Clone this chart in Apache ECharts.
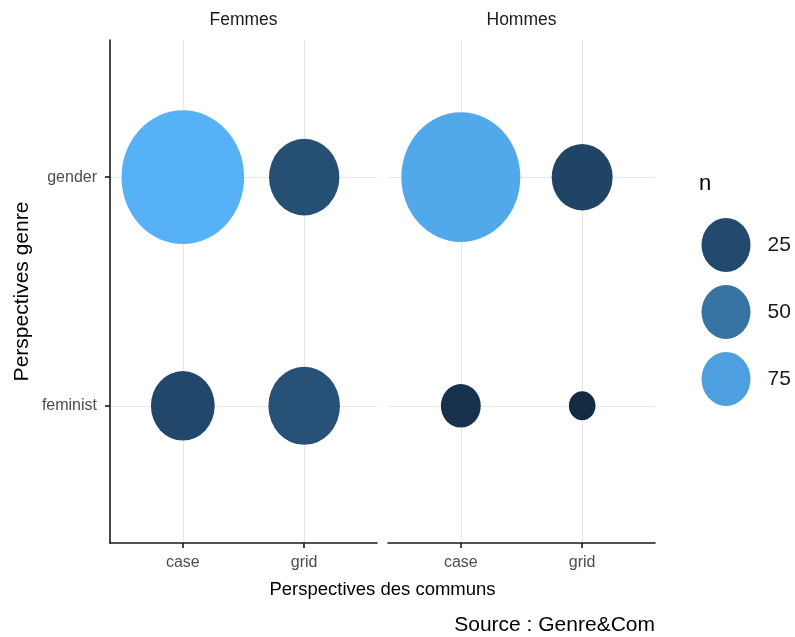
<!DOCTYPE html>
<html><head><meta charset="utf-8">
<script src="https://cdn.jsdelivr.net/npm/echarts@6/dist/echarts.min.js"></script>
<style>html,body{margin:0;padding:0;background:#fff}#c{width:795px;height:637px}</style>
</head><body><div id="c"></div>
<script>
// ---- data ----
const panels = ['Femmes', 'Hommes'];
const xCats = ['case', 'grid'];
const yCats = ['feminist', 'gender'];
const femmesFeminist = [23, 29];   // case, grid
const femmesGender = [85, 28];
const hommesFeminist = [9, 4];
const hommesGender = [80, 21];
const legendValues = [25, 50, 75];
const xTitle = 'Perspectives des communs';
const yTitle = 'Perspectives genre';
const caption = 'Source : Genre&Com';
const legendTitle = 'n';

// ---- colour scale (Lab interpolation like ggplot's gradient) ----
const colorLow = '#132B43', colorHigh = '#56B1F7';
function hexToRgb(h){ h=h.replace('#',''); return [0,2,4].map(i=>parseInt(h.substr(i,2),16)); }
function toLin(c){ c/=255; return c<=0.04045? c/12.92 : Math.pow((c+0.055)/1.055,2.4); }
function fromLin(c){ const v = c<=0.0031308? 12.92*c : 1.055*Math.pow(c,1/2.4)-0.055; return Math.round(Math.max(0,Math.min(1,v))*255); }
const Xn=0.95047, Yn=1, Zn=1.08883;
function f(t){ return t>0.008856? Math.cbrt(t) : 7.787*t+16/116; }
function finv(t){ return t>0.206893? t*t*t : (t-16/116)/7.787; }
function rgbToLab(rgb){ const [r,g,b]=rgb.map(toLin);
  const X=(0.4124*r+0.3576*g+0.1805*b)/Xn, Y=(0.2126*r+0.7152*g+0.0722*b)/Yn, Z=(0.0193*r+0.1192*g+0.9505*b)/Zn;
  return [116*f(Y)-16, 500*(f(X)-f(Y)), 200*(f(Y)-f(Z))]; }
function labToHex(lab){ const fy=(lab[0]+16)/116, fx=fy+lab[1]/500, fz=fy-lab[2]/200;
  const X=finv(fx)*Xn, Y=finv(fy)*Yn, Z=finv(fz)*Zn;
  const r= 3.2406*X-1.5372*Y-0.4986*Z, g=-0.9689*X+1.8758*Y+0.0415*Z, b=0.0557*X-0.2040*Y+1.0570*Z;
  return '#'+[r,g,b].map(fromLin).map(v=>v.toString(16).padStart(2,'0')).join(''); }
const labLow = rgbToLab(hexToRgb(colorLow)), labHigh = rgbToLab(hexToRgb(colorHigh));
const colorStops = [];
for (let k=0;k<=20;k++){ const t=k/20; colorStops.push(labToHex(labLow.map((v,i)=>v+(labHigh[i]-v)*t))); }

const allN = [].concat(femmesFeminist, femmesGender, hommesFeminist, hommesGender);
const nMin = Math.min(...allN), nMax = Math.max(...allN);

function panelData(feminist, gender){
  const d = [];
  xCats.forEach((c,i)=>{ d.push([i+1, 1, feminist[i]]); d.push([i+1, 2, gender[i]]); });
  return d;
}
const ellipsePath = 'path://M0,1A1,1 0 1,1 2,1A1,1 0 1,1 0,1Z';
const sizeK = 13.3, aspect = 1.09;
const symbolSize = v => { const w = sizeK*Math.sqrt(v[2]); return [w, w*aspect]; };

const FONT = '"Liberation Sans", Arial, sans-serif';
const gridLine = { show:true, lineStyle:{ color:'#e8e8e8', width:1 } };
function xAxisFor(gi){
  return { type:'value', gridIndex:gi, min:0.4, max:2.6,
    axisLine:{ show:true, lineStyle:{ color:'#1a1a1a', width:1.6 } },
    axisTick:{ show:true, length:5, customValues:[1,2], lineStyle:{ color:'#1a1a1a', width:1.6 } },
    axisLabel:{ customValues:[1,2], formatter: v=>xCats[Math.round(v)-1], color:'#4d4d4d', fontSize:16, fontFamily:FONT, margin:12 },
    splitLine: gridLine };
}
function yAxisFor(gi, showAxis){
  return { type:'value', gridIndex:gi, min:0.4, max:2.6,
    name: showAxis? yTitle : '', nameLocation:'middle', nameGap:77, nameRotate:90,
    nameTextStyle:{ fontSize:21, color:'#000', fontFamily:FONT },
    axisLine:{ show:showAxis, lineStyle:{ color:'#1a1a1a', width:1.6 } },
    axisTick:{ show:showAxis, length:5, customValues:[1,2], lineStyle:{ color:'#1a1a1a', width:1.6 } },
    axisLabel:{ show:showAxis, customValues:[1,2], formatter: v=>yCats[Math.round(v)-1], color:'#4d4d4d', fontSize:16, fontFamily:FONT, margin:13 },
    splitLine: gridLine };
}

const option = {
  animation:false,
  backgroundColor:'#fff',
  grid:[
    { left:110, top:40, width:267, height:503 },
    { left:388, top:40, width:267, height:503 },
    { left:676, top:245, width:100, height:134 }
  ],
  xAxis:[ xAxisFor(0), xAxisFor(1),
    { type:'value', gridIndex:2, min:-1, max:1, show:false } ],
  yAxis:[ yAxisFor(0,true), yAxisFor(1,false),
    { type:'value', gridIndex:2, min:0, max:2, inverse:true, show:false } ],
  visualMap:{ type:'continuous', show:false, dimension:2, min:nMin, max:nMax, seriesIndex:[0,1,2], inRange:{ color: colorStops } },
  series:[
    { type:'scatter', name:panels[0], xAxisIndex:0, yAxisIndex:0, symbol:ellipsePath, symbolSize, itemStyle:{ opacity:1 }, data: panelData(femmesFeminist, femmesGender) },
    { type:'scatter', name:panels[1], xAxisIndex:1, yAxisIndex:1, symbol:ellipsePath, symbolSize, itemStyle:{ opacity:1 }, data: panelData(hommesFeminist, hommesGender) },
    { type:'scatter', name:'legend', xAxisIndex:2, yAxisIndex:2, symbol:ellipsePath, symbolSize:[49,54], itemStyle:{ opacity:1 },
      data: legendValues.map((v,i)=>[0, i, v]),
      label:{ show:true, position:'right', distance:17, formatter: p=>String(p.value[2]), fontSize:21, color:'#1a1a1a', fontFamily:FONT } }
  ],
  graphic:[
    { type:'text', x:243.5, y:20, style:{ text:panels[0], font:'17.5px '+FONT, fill:'#1a1a1a', textAlign:'center', textVerticalAlign:'middle' } },
    { type:'text', x:521.5, y:20, style:{ text:panels[1], font:'17.5px '+FONT, fill:'#1a1a1a', textAlign:'center', textVerticalAlign:'middle' } },
    { type:'text', x:382.5, y:590, style:{ text:xTitle, font:'18.5px '+FONT, fill:'#000', textAlign:'center', textVerticalAlign:'middle' } },
    { type:'text', x:655, y:625, style:{ text:caption, font:'21px '+FONT, fill:'#000', textAlign:'right', textVerticalAlign:'middle' } },
    { type:'text', x:699, y:184, style:{ text:legendTitle, font:'22px '+FONT, fill:'#000', textAlign:'left', textVerticalAlign:'middle' } }
  ]
};
echarts.init(document.getElementById('c')).setOption(option);
</script></body></html>
